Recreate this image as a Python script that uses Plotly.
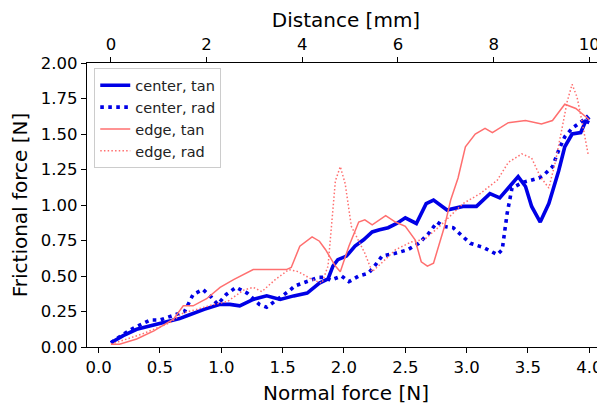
import plotly.graph_objects as go

# ---- data ----
center_tan_x = [0.10, 0.20, 0.31, 0.45, 0.58, 0.66, 0.72, 0.86, 0.99, 1.07, 1.15, 1.26, 1.37, 1.48, 1.59, 1.70,
                1.80, 1.87, 1.91, 1.95, 2.02, 2.09, 2.16, 2.23, 2.29, 2.36, 2.43, 2.50, 2.59, 2.67, 2.73, 2.84,
                2.97, 3.08, 3.19, 3.27, 3.34, 3.42, 3.48, 3.53, 3.60, 3.67, 3.75, 3.80, 3.86, 3.93, 3.97, 4.00]
center_tan_y = [0.03, 0.08, 0.125, 0.155, 0.185, 0.20, 0.22, 0.265, 0.30, 0.30, 0.29, 0.335, 0.36, 0.335, 0.36, 0.38,
                0.45, 0.48, 0.57, 0.615, 0.64, 0.71, 0.755, 0.81, 0.825, 0.84, 0.87, 0.91, 0.87, 1.01, 1.035, 0.965,
                0.99, 0.99, 1.08, 1.05, 1.12, 1.20, 1.13, 0.99, 0.88, 1.01, 1.24, 1.41, 1.50, 1.51, 1.59, 1.58]

center_rad_x = [0.10, 0.20, 0.30, 0.42, 0.50, 0.60, 0.70, 0.77, 0.85, 0.92, 0.97, 1.04, 1.12, 1.21, 1.31, 1.37,
                1.42, 1.50, 1.56, 1.60, 1.70, 1.79, 1.85, 1.89, 1.98, 2.04, 2.12, 2.20, 2.25, 2.31, 2.42, 2.52,
                2.61, 2.69, 2.76, 2.81, 2.89, 2.97, 3.03, 3.14, 3.25, 3.29, 3.33, 3.37, 3.46, 3.59, 3.64, 3.70,
                3.75, 3.80, 3.86, 3.94, 3.98, 4.00]
center_rad_y = [0.03, 0.09, 0.14, 0.19, 0.19, 0.22, 0.25, 0.37, 0.405, 0.35, 0.30, 0.37, 0.42, 0.38, 0.30, 0.28,
                0.31, 0.36, 0.40, 0.43, 0.46, 0.49, 0.49, 0.47, 0.50, 0.46, 0.50, 0.52, 0.57, 0.64, 0.66, 0.685,
                0.73, 0.80, 0.88, 0.85, 0.84, 0.78, 0.73, 0.70, 0.65, 0.685, 0.94, 1.12, 1.16, 1.19, 1.22, 1.27,
                1.385, 1.48, 1.54, 1.59, 1.62, 1.60]

edge_tan_x = [0.10, 0.17, 0.31, 0.45, 0.61, 0.64, 0.69, 0.77, 0.88, 0.99, 1.10, 1.26, 1.37, 1.53, 1.57, 1.64,
              1.74, 1.80, 1.85, 1.93, 1.97, 2.04, 2.12, 2.17, 2.23, 2.34, 2.42, 2.50, 2.58, 2.63, 2.68, 2.73,
              2.82, 2.87, 2.93, 2.99, 3.07, 3.15, 3.21, 3.34, 3.48, 3.61, 3.70, 3.80, 3.89, 3.97, 4.00]
edge_tan_y = [0.02, 0.02, 0.056, 0.114, 0.196, 0.23, 0.29, 0.29, 0.34, 0.42, 0.475, 0.545, 0.545, 0.545, 0.56, 0.71,
              0.775, 0.745, 0.685, 0.57, 0.53, 0.71, 0.88, 0.895, 0.86, 0.925, 0.88, 0.85, 0.755, 0.60, 0.57, 0.59,
              0.85, 1.035, 1.19, 1.41, 1.50, 1.54, 1.51, 1.58, 1.595, 1.57, 1.595, 1.71, 1.68, 1.62, 1.60]

edge_rad_x = [0.10, 0.20, 0.35, 0.58, 0.69, 0.80, 0.94, 1.05, 1.18, 1.26, 1.33, 1.44, 1.55, 1.63, 1.74, 1.82,
              1.87, 1.93, 1.97, 2.01, 2.06, 2.17, 2.23, 2.28, 2.42, 2.55, 2.66, 2.78, 2.97, 3.11, 3.25, 3.34,
              3.45, 3.53, 3.60, 3.67, 3.72, 3.78, 3.82, 3.86, 3.90, 3.94, 3.99]
edge_rad_y = [0.02, 0.05, 0.09, 0.17, 0.24, 0.265, 0.30, 0.32, 0.40, 0.42, 0.39, 0.475, 0.545, 0.53, 0.475, 0.45,
              0.57, 1.17, 1.27, 1.15, 0.85, 0.66, 0.53, 0.57, 0.685, 0.74, 0.76, 0.85, 1.01, 1.08, 1.175, 1.30,
              1.36, 1.33, 1.20, 1.12, 1.29, 1.55, 1.73, 1.85, 1.76, 1.59, 1.36]

normal_ticks = [0.0, 0.5, 1.0, 1.5, 2.0, 2.5, 3.0, 3.5, 4.0]
distance_ticks = [0, 2, 4, 6, 8, 10]
friction_ticks = [0.00, 0.25, 0.50, 0.75, 1.00, 1.25, 1.50, 1.75, 2.00]

BLUE = "#0000e6"
RED = "#ff6f6f"
FONT = "DejaVu Sans"

fig = go.Figure()
fig.add_trace(go.Scatter(x=center_tan_x, y=center_tan_y, mode="lines", name="center, tan",
                         line=dict(color=BLUE, width=3.6)))
fig.add_trace(go.Scatter(x=center_rad_x, y=center_rad_y, mode="lines", name="center, rad",
                         line=dict(color=BLUE, width=3.6, dash="3.6px,4.4px")))
fig.add_trace(go.Scatter(x=edge_tan_x, y=edge_tan_y, mode="lines", name="edge, tan",
                         line=dict(color=RED, width=1.5)))
fig.add_trace(go.Scatter(x=edge_rad_x, y=edge_rad_y, mode="lines", name="edge, rad",
                         line=dict(color=RED, width=1.5, dash="1.5px,2.2px")))
# invisible trace to activate the top (distance) axis
fig.add_trace(go.Scatter(x=distance_ticks, y=[None] * len(distance_ticks), xaxis="x2",
                         mode="lines", showlegend=False, hoverinfo="skip"))

axis_common = dict(showgrid=False, zeroline=False, showline=True, linecolor="black", linewidth=1.2,
                   ticks="outside", ticklen=5, tickwidth=1.2, tickcolor="black",
                   tickfont=dict(family=FONT, size=16.5, color="black"), automargin=False)

# the page body adds an 8px offset, so the figure is 8px smaller than the window
fig.update_layout(
    width=597, height=397,
    margin=dict(l=79, r=0, t=55, b=58),
    paper_bgcolor="white", plot_bgcolor="white",
    font=dict(family=FONT, color="black"),
    showlegend=True,
    legend=dict(x=0.014, y=0.981, xanchor="left", yanchor="top",
                bgcolor="rgba(255,255,255,0.85)", bordercolor="#cccccc", borderwidth=1,
                font=dict(family=FONT, size=14.5, color="#222222"), tracegroupgap=0),
    xaxis=dict(range=[-0.095, 4.128], tickvals=normal_ticks,
               ticktext=[f"{v:.1f}" for v in normal_ticks],
               title=dict(text="Normal force [N]", font=dict(family=FONT, size=20), standoff=10),
               **axis_common),
    xaxis2=dict(range=[-0.5, 10.328], overlaying="x", side="top", anchor="y",
                tickvals=distance_ticks, ticktext=[str(v) for v in distance_ticks],
                title=dict(text="Distance [mm]", font=dict(family=FONT, size=20), standoff=6),
                **axis_common),
    yaxis=dict(range=[0, 2.0], tickvals=friction_ticks,
               ticktext=[f"{v:.2f}" for v in friction_ticks],
               title=dict(text="Frictional force [N]", font=dict(family=FONT, size=20), standoff=10),
               **axis_common),
)

fig.write_html("out.html")
